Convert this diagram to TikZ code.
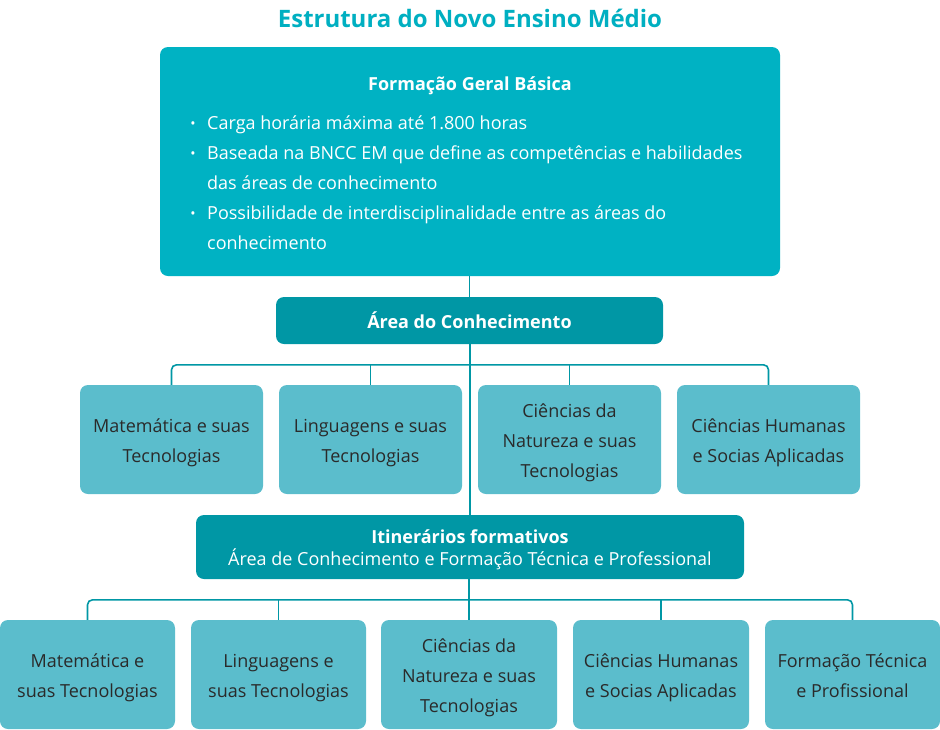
\documentclass[tikz,border=0pt]{standalone}
\usepackage{fontspec}
\setmainfont{Open Sans}
\definecolor{titlec}{HTML}{00AFC1}
\definecolor{topc}{HTML}{00B2C3}
\definecolor{darkc}{HTML}{0097A5}
\definecolor{lightc}{HTML}{5BBDCC}
\definecolor{textc}{HTML}{2A2A2A}
\tikzset{
  box/.style={rectangle, rounded corners=8pt, inner sep=0pt, align=center},
  topbox/.style={box, fill=topc},
  darkbox/.style={box, fill=darkc, text=white},
  lightbox/.style={box, fill=lightc},
  conn/.style={draw=darkc, line width=1.6pt},
  bul/.style={anchor=base west, inner sep=0pt, text=white, font=\fontsize{18}{30}\selectfont},
  lt/.style={align=center, text=textc, font=\fontsize{18}{30}\selectfont, inner sep=0pt, yshift=-1.5pt},
}
\begin{document}
\begin{tikzpicture}[x=1pt,y=-1pt]
\useasboundingbox (0,0) rectangle (940,729);
% title
\node[text=titlec, font=\fontsize{24}{28}\selectfont\bfseries] (title) at (470,18) {Estrutura do Novo Ensino Médio};
% top box
\node[topbox, minimum width=620, minimum height=229] (fgb) at (470,161.5) {};
\node[text=white, font=\fontsize{18}{20}\selectfont\bfseries] (fgbt) at (470,86) {Formação Geral Básica};
\node[bul] (b1a) at (207,129) {Carga horária máxima até 1.800 horas};
\node[bul] (b2a) at (207,159) {Baseada na BNCC EM que define as competências e habilidades};
\node[bul] (b2b) at (207,189) {das áreas de conhecimento};
\node[bul] (b3a) at (207,219) {Possibilidade de interdisciplinalidade entre as áreas do};
\node[bul] (b3b) at (207,249) {conhecimento};
\foreach \yy/\nm in {129/d1,159/d2,219/d3}
  \node[bul, anchor=base, font=\fontsize{14}{14}\selectfont] (\nm) at (193,\yy-1) {•};
% area box
\node[darkbox, minimum width=387, minimum height=47, font=\fontsize{18}{20}\selectfont\bfseries] (area) at (469.5,320.5) {Área do Conhecimento};
% row 1
\node[lightbox, minimum width=183, minimum height=109] (r1) at (171.5,439.5) {};
\node[lightbox, minimum width=183, minimum height=109] (r2) at (370.5,439.5) {};
\node[lightbox, minimum width=183, minimum height=109] (r3) at (569.5,439.5) {};
\node[lightbox, minimum width=183, minimum height=109] (r4) at (768.5,439.5) {};
\node[lt] (r1t) at (r1) {\strut Matemática e suas\\\strut Tecnologias};
\node[lt] (r2t) at (r2) {\strut Linguagens e suas\\\strut Tecnologias};
\node[lt] (r3t) at (r3) {\strut Ciências da\\\strut Natureza e suas\\\strut Tecnologias};
\node[lt] (r4t) at (r4) {\strut Ciências Humanas\\\strut e Socias Aplicadas};
% itinerarios
\node[darkbox, minimum width=548, minimum height=64] (itin) at (470,547) {};
\node[align=center, text=white, font=\fontsize{18}{22}\selectfont, inner sep=0pt, yshift=-3pt] (itint) at (itin) {\textbf{Itinerários formativos}\\Área de Conhecimento e Formação Técnica e Professional};
% row 2
\node[lightbox, minimum width=175, minimum height=109] (s1) at (87.5,674.5) {};
\node[lightbox, minimum width=175, minimum height=109] (s2) at (278.5,674.5) {};
\node[lightbox, minimum width=176, minimum height=109] (s3) at (469,674.5) {};
\node[lightbox, minimum width=176, minimum height=109] (s4) at (661,674.5) {};
\node[lightbox, minimum width=175, minimum height=109] (s5) at (852.5,674.5) {};
\node[lt] (s1t) at (s1) {\strut Matemática e\\\strut suas Tecnologias};
\node[lt] (s2t) at (s2) {\strut Linguagens e\\\strut suas Tecnologias};
\node[lt] (s3t) at (s3) {\strut Ciências da\\\strut Natureza e suas\\\strut Tecnologias};
\node[lt] (s4t) at (s4) {\strut Ciências Humanas\\\strut e Socias Aplicadas};
\node[lt] (s5t) at (s5) {\strut Formação Técnica\\\strut e Profissional};
% connectors
\draw[conn] (fgb.south -| area.north) -- (area.north);
\draw[conn] (area.south) -- (itin.south |- area.south) -- (itin.north);
\draw[conn, rounded corners=5pt] (r1.north) -- ++(0,-20) -| (r4.north);
\draw[conn] (r2.north) -- ++(0,-20);
\draw[conn] (r3.north) -- ++(0,-20);
\draw[conn, rounded corners=5pt] (s1.north) -- ++(0,-20) -| (s5.north);
\draw[conn] (s2.north) -- ++(0,-20);
\draw[conn] (itin.south) -- (s3.north |- itin.south) -- (s3.north);
\draw[conn] (s4.north) -- ++(0,-20);
\end{tikzpicture}
\end{document}
